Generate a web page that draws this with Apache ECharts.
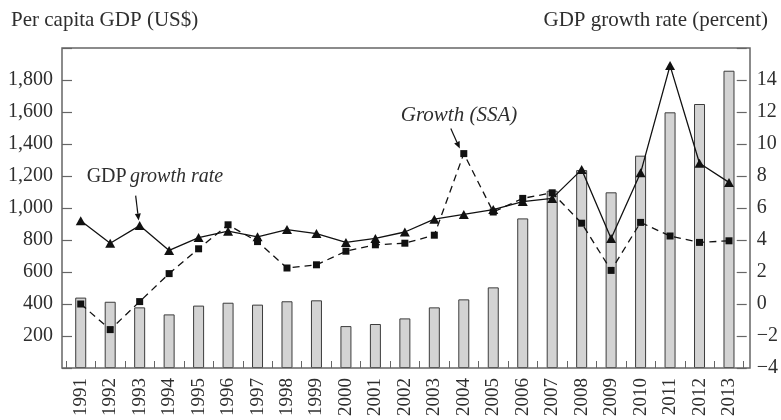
<!DOCTYPE html>
<html>
<head>
<meta charset="utf-8">
<script src="https://cdn.jsdelivr.net/npm/echarts@6/dist/echarts.min.js"></script>
<style>
  html, body { margin: 0; padding: 0; background: #fff; }
  #chart { width: 781px; height: 420px; }
</style>
</head>
<body>
<div id="chart"></div>
<script>
// data
const years = ['1991','1992','1993','1994','1995','1996','1997','1998','1999','2000','2001','2002',
  '2003','2004','2005','2006','2007','2008','2009','2010','2011','2012','2013'];
const perCapitaGdp = [440,414,379,335,390,408,396,417,423,262,275,310,379,429,504,935,1108,1237,1098,1327,1598,1650,1858];
const gdpGrowth = [5.2,3.8,4.9,3.35,4.15,4.55,4.2,4.65,4.4,3.85,4.1,4.5,5.3,5.6,5.9,6.4,6.6,8.4,4.1,8.2,14.9,8.8,7.6];
const ssaGrowth = [0.0,-1.6,0.15,1.9,3.45,4.95,3.9,2.25,2.45,3.3,3.7,3.8,4.3,9.4,5.75,6.6,6.95,5.05,2.1,5.1,4.25,3.85,3.95];

const FONT = 'Liberation Serif';
const INK = '#2e2e2e';
const FRAME = '#666';

let myChart = echarts.init(document.getElementById('chart'));

myChart.setOption({
  animation: false,
  title: [
    { text: 'Per capita GDP (US$)', left: 6, top: 5,
      textStyle: { fontFamily: FONT, fontSize: 21, fontWeight: 'normal', color: INK } },
    { text: 'GDP growth rate (percent)', right: 8, top: 5,
      textStyle: { fontFamily: FONT, fontSize: 21, fontWeight: 'normal', color: INK } }
  ],
  grid: { left: 66, right: 34, top: 48, bottom: 52 },
  xAxis: {
    type: 'category',
    data: years,
    boundaryGap: true,
    axisLine: { show: false },
    axisTick: { show: true, inside: true, length: 7, interval: 0, lineStyle: { color: FRAME, width: 1 } },
    axisLabel: { rotate: 90, interval: 0, margin: 10, fontFamily: FONT, fontSize: 19, color: INK },
    splitLine: { show: false }
  },
  yAxis: [
    {
      type: 'value', min: 0, max: 2000, interval: 200, offset: 4,
      axisLine: { show: false },
      axisTick: { show: true, inside: true, length: 10, lineStyle: { color: FRAME, width: 1.2 } },
      axisLabel: {
        margin: 9, fontFamily: FONT, fontSize: 20, color: INK,
        formatter: v => (v === 0 || v === 2000) ? '' : v.toLocaleString('en-US')
      },
      splitLine: { show: false }
    },
    {
      type: 'value', min: -4, max: 16, interval: 2, offset: 3, position: 'right',
      axisLine: { show: false },
      axisTick: { show: true, inside: true, length: 10, lineStyle: { color: FRAME, width: 1.2 } },
      axisLabel: {
        margin: 10, fontFamily: FONT, fontSize: 20, color: INK,
        formatter: v => v === 16 ? '' : (v < 0 ? '\u2212' + Math.abs(v) : String(v))
      },
      splitLine: { show: false }
    }
  ],
  series: [
    {
      name: 'Per capita GDP', type: 'bar', yAxisIndex: 0, data: perCapitaGdp,
      barWidth: 11,
      itemStyle: { color: '#d3d3d3', borderColor: '#3c3c3c', borderWidth: 1 }
    },
    {
      name: 'Growth (SSA)', type: 'line', yAxisIndex: 1, data: ssaGrowth,
      symbol: 'rect', symbolSize: 7,
      lineStyle: { color: '#111', width: 1.3, type: [7, 5] },
      itemStyle: { color: '#111' }
    },
    {
      name: 'GDP growth rate', type: 'line', yAxisIndex: 1, data: gdpGrowth,
      symbol: 'triangle', symbolSize: [10, 9],
      lineStyle: { color: '#111', width: 1.3 },
      itemStyle: { color: '#111' }
    }
  ]
});

// annotation arrows placed from the data points
function arrow(x1, y1, x2, y2) {
  const a = Math.atan2(y2 - y1, x2 - x1), L = 7, W = 3;
  const bx = x2 - L * Math.cos(a), by = y2 - L * Math.sin(a);
  return [
    { type: 'line', shape: { x1, y1, x2: bx, y2: by }, style: { stroke: '#111', lineWidth: 1.2 }, z: 20 },
    { type: 'polygon', shape: { points: [[x2, y2],
        [bx + W * Math.sin(a), by - W * Math.cos(a)],
        [bx - W * Math.sin(a), by + W * Math.cos(a)]] },
      style: { fill: '#111' }, z: 20 }
  ];
}

const p1 = myChart.convertToPixel({ xAxisIndex: 0, yAxisIndex: 1 }, ['1993', gdpGrowth[2]]);
const p2 = myChart.convertToPixel({ xAxisIndex: 0, yAxisIndex: 1 }, ['2004', ssaGrowth[13]]);

myChart.setOption({
  graphic: [
    { type: 'rect', shape: { x: 62, y: 48, width: 688, height: 320 },
      style: { fill: 'none', stroke: FRAME, lineWidth: 1.5 }, z: 10, silent: true },
    { type: 'text', x: p1[0] - 53, y: p1[1] - 49,
      style: { text: '{a|GDP} {b|growth rate}', fill: INK, verticalAlign: 'middle',
        rich: {
          a: { fontFamily: FONT, fontSize: 20, fill: INK },
          b: { fontFamily: FONT, fontSize: 20, fontStyle: 'italic', fill: INK }
        } }, z: 20 },
    ...arrow(p1[0] - 4, p1[1] - 30, p1[0] - 1, p1[1] - 5),
    { type: 'text', x: p2[0] - 63, y: p2[1] - 38,
      style: { text: 'Growth (SSA)', fill: INK, verticalAlign: 'middle',
        fontFamily: FONT, fontSize: 21, fontStyle: 'italic' }, z: 20 },
    ...arrow(p2[0] - 13, p2[1] - 25, p2[0] - 4, p2[1] - 5)
  ]
});
</script>
</body>
</html>
